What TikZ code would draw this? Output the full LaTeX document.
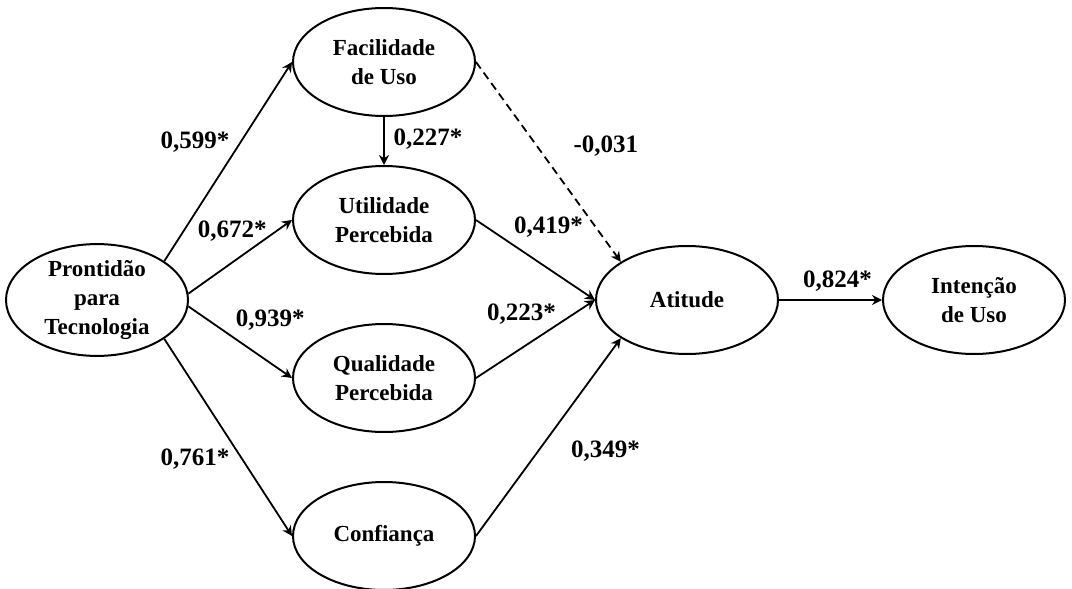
\documentclass[tikz,border=0pt]{standalone}
\usepackage{fontspec}
\setmainfont{Liberation Serif}
\usetikzlibrary{arrows.meta,positioning,shapes.geometric}
\tikzset{
  construct/.style={
    draw=black, ellipse, line width=1pt,
    minimum width=91pt, minimum height=54pt, inner sep=0pt,
    align=center, font=\fontsize{11.5}{14.5}\selectfont\bfseries
  },
  effect/.style={-{Stealth[length=5pt,width=5pt]}, draw=black, line width=0.9pt},
  weakeffect/.style={effect, dash pattern=on 4pt off 2.5pt},
  coef/.style={font=\fontsize{12.5}{15}\selectfont\bfseries, inner sep=1pt}
}
\begin{document}
\begin{tikzpicture}[on grid, node distance=79pt and 143.5pt]
  \useasboundingbox (0,0) rectangle (536pt,-294.5pt);

  \node[construct] (prontidao) at (48.5pt,-150pt) {Prontidão\\para\\Tecnologia};
  \node[construct, above right=119pt and 143.5pt of prontidao] (facilidade) {Facilidade\\de Uso};
  \node[construct, below=of facilidade] (utilidade) {Utilidade\\Percebida};
  \node[construct, below=of utilidade] (qualidade) {Qualidade\\Percebida};
  \node[construct, below=of qualidade] (confianca) {Confiança};
  \node[construct, right=295pt of prontidao] (atitude) {Atitude};
  \node[construct, right=of atitude] (intencao) {Intenção\\de Uso};

  \draw[effect] (prontidao.30) -- (facilidade.west) node[coef, pos=0.6, xshift=-23pt] {0,599*};
  \draw[effect] (prontidao.4) -- (utilidade.west) node[coef, pos=0.5, xshift=-4pt, yshift=13pt] {0,672*};
  \draw[effect] (prontidao.-4) -- (qualidade.west) node[coef, pos=0.5, xshift=15pt, yshift=11pt] {0,939*};
  \draw[effect] (prontidao.-30) -- (confianca.west) node[coef, pos=0.6, xshift=-23pt, yshift=-1pt] {0,761*};
  \draw[effect] (facilidade) -- (utilidade) node[coef, midway, xshift=22pt, yshift=1pt] {0,227*};
  \draw[weakeffect] (facilidade.east) -- (atitude.150) node[coef, pos=0.4, xshift=36pt, yshift=-2pt] {-0,031};
  \draw[effect] (utilidade.east) -- (atitude.west) node[coef, midway, xshift=6.5pt, yshift=16.5pt] {0,419*};
  \draw[effect] (qualidade.east) -- (atitude.west) node[coef, midway, xshift=-7pt, yshift=12.5pt] {0,223*};
  \draw[effect] (confianca.east) -- (atitude.210) node[coef, midway, xshift=28.5pt, yshift=-7pt] {0,349*};
  \draw[effect] (atitude) -- (intencao) node[coef, midway, xshift=3.5pt, yshift=9.5pt] {0,824*};
\end{tikzpicture}
\end{document}
